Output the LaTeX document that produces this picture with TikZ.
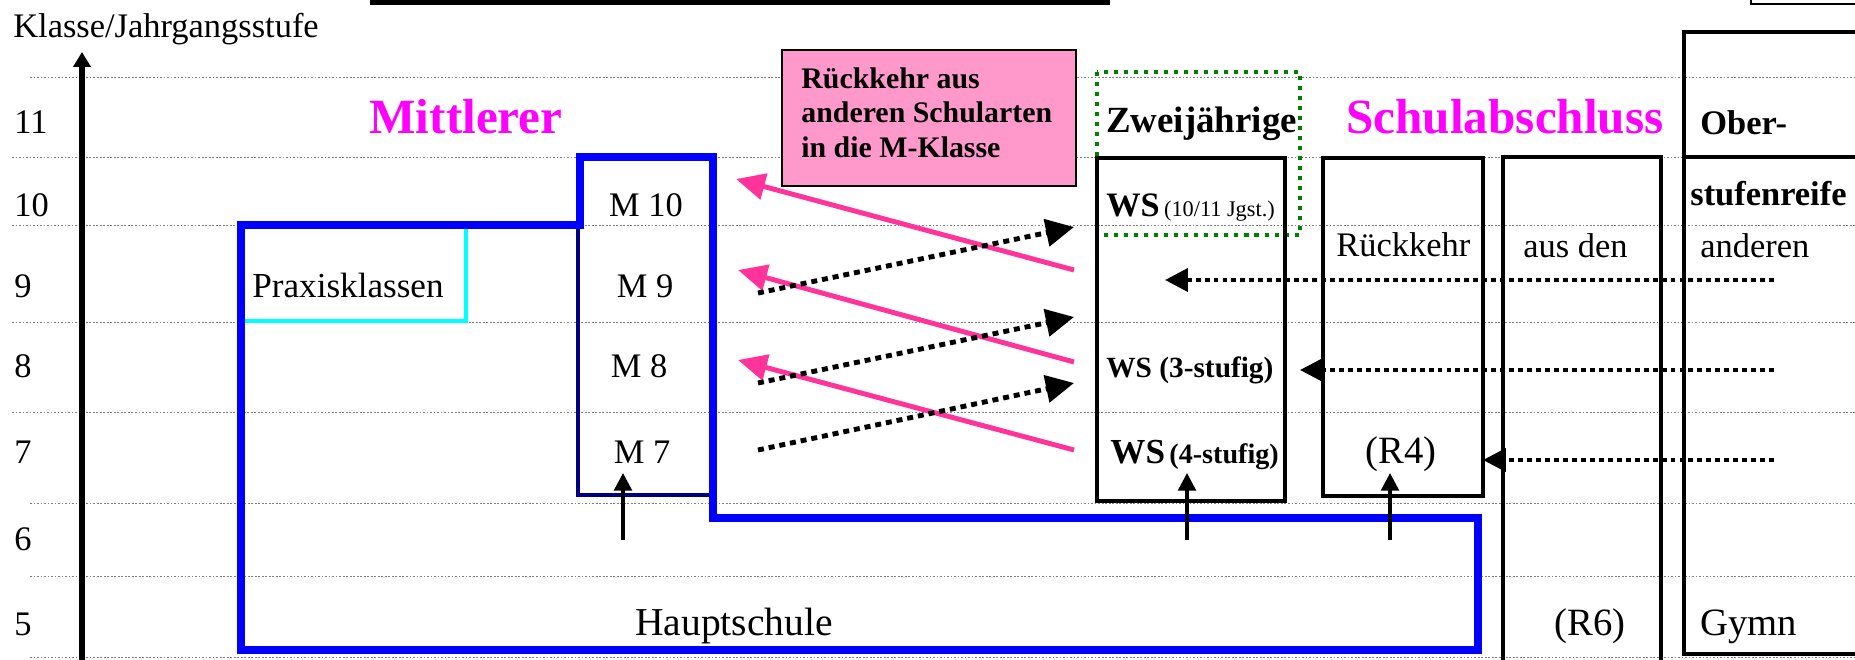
\documentclass[tikz,border=0pt]{standalone}
\usepackage{fontspec}
\setmainfont{Liberation Serif}
\usetikzlibrary{arrows.meta}
\definecolor{mag}{RGB}{255,0,255}
\definecolor{hotpink}{RGB}{255,51,153}
\definecolor{pinkfill}{RGB}{255,153,204}
\definecolor{navyc}{RGB}{0,0,128}
\definecolor{ddgreen}{RGB}{0,128,0}
\definecolor{pblue}{RGB}{0,0,255}
\definecolor{pcyan}{RGB}{0,255,255}
\newcommand{\fsz}[1]{\fontsize{#1pt}{#1pt}\selectfont}
\tikzset{
  gridline/.style={draw=gray, line width=0.5pt, dash pattern=on 1pt off 1pt},
  lbl/.style={inner sep=0pt, anchor=base west},
  clbl/.style={inner sep=0pt, anchor=base},
  axisline/.style={line width=3pt, -{Triangle[length=8.5pt,width=9.7pt]}},
  bluepath/.style={draw=pblue, line width=4.5pt, line join=miter},
  navybox/.style={draw=navyc, line width=2.6pt},
  cyanbox/.style={draw=pcyan, line width=2pt},
  blkbox/.style={draw=black, line width=2.8pt},
  greendot/.style={draw=ddgreen, line width=2.3pt, dash pattern=on 2.3pt off 3.4pt},
  pinkarrow/.style={draw=hotpink, line width=2.8pt, -{Triangle[length=16.5pt,width=14.8pt]}},
  dotarrow/.style={draw=black, line width=2.8pt, dash pattern=on 3.4pt off 2.8pt, -{Triangle[length=16pt,width=15.4pt]}},
  harrow/.style={draw=black, line width=2.3pt, dash pattern=on 2.8pt off 2.3pt, -{Triangle[length=13pt,width=13pt]}},
  varrow/.style={draw=black, line width=2pt, -{Triangle[length=10pt,width=10pt]}},
  pinkbox/.style={fill=pinkfill, draw=black, line width=1.2pt},
  normtxt/.style={font=\fsz{19.6}},
  bigtxt/.style={font=\fsz{22}},
  boldtxt/.style={font=\bfseries\fsz{19.6}},
  headtxt/.style={font=\bfseries\fsz{28}, text=mag},
}
\begin{document}
\begin{tikzpicture}[x=0.02cm,y=-0.02cm]
\useasboundingbox (0,0) rectangle (1855,659);
\clip (0,0) rectangle (1855,659);

% grid lines
\foreach \yy/\xx in {77/30,157/12,225/12,322/12,412/12,503/30,576/30,657/30}
  \draw[gridline] (\xx,\yy) -- (1855,\yy);

% top fragments
\draw[line width=2.3pt] (370,2.5) -- (1110,2.5);
\draw[line width=0.8pt] (1751,-10) rectangle (1870,4);

% axis
\coordinate (axb) at (82,665);
\coordinate (axt) at (82,52);
\draw[axisline] (axb) -- (axt);
\node[lbl, normtxt] (klasse) at (13,37) {Klasse/Jahrgangsstufe};

% row labels
\node[lbl, normtxt] (r11) at (14,133) {11};
\node[lbl, normtxt] (r10) at (14,216) {10};
\node[lbl, normtxt] (r9) at (14,297) {9};
\node[lbl, normtxt] (r8) at (14,377) {8};
\node[lbl, normtxt] (r7) at (14,463) {7};
\node[lbl, normtxt] (r6) at (14,550) {6};
\node[lbl, normtxt] (r5) at (14,635) {5};

% Praxisklassen box, M box, blue region
\draw[cyanbox] (243,227) rectangle (466,321);
\draw[navybox] (578,157) rectangle (714,495);
\draw[bluepath] (241,225) -- (580,225) -- (580,157) -- (713,157) -- (713,518)
  -- (1478,518) -- (1478,650) -- (241,650) -- cycle;

% green dotted box
\draw[greendot] (1097,72) rectangle (1300,235);

% black boxes
\draw[blkbox] (1097,158) rectangle (1285,501);
\draw[blkbox] (1323,158) rectangle (1483,496);
\draw[blkbox] (1503,157) rectangle (1661,700);
\draw[blkbox] (1684,32) rectangle (1880,157);
\draw[blkbox] (1684,157) rectangle (1880,654);

% pink box
\node[pinkbox, anchor=north west, minimum width=5.88cm, minimum height=2.72cm, inner sep=0pt] (pk) at (781,49) {};
\node[lbl, font=\bfseries\fsz{17}] (pk1) at (801,88) {Rückkehr aus};
\node[lbl, font=\bfseries\fsz{17}] (pk2) at (801,122) {anderen Schularten};
\node[lbl, font=\bfseries\fsz{17}] (pk3) at (801,157) {in die M-Klasse};

% pink arrows
\coordinate (p1s) at (1074,270); \coordinate (p1e) at (736,179);
\coordinate (p2s) at (1074,362); \coordinate (p2e) at (738,270);
\coordinate (p3s) at (1074,450); \coordinate (p3e) at (738,360);
\draw[pinkarrow] (p1s) -- (p1e);
\draw[pinkarrow] (p2s) -- (p2e);
\draw[pinkarrow] (p3s) -- (p3e);

% dotted diagonal arrows
\coordinate (d1s) at (758,293); \coordinate (d1e) at (1074,227);
\coordinate (d2s) at (758,383); \coordinate (d2e) at (1074,317);
\coordinate (d3s) at (758,450); \coordinate (d3e) at (1074,383);
\draw[dotarrow] (d1s) -- (d1e);
\draw[dotarrow] (d2s) -- (d2e);
\draw[dotarrow] (d3s) -- (d3e);

% horizontal dotted arrows
\coordinate (h1s) at (1774,280); \coordinate (h1e) at (1165,280);
\coordinate (h2s) at (1774,370); \coordinate (h2e) at (1300,370);
\coordinate (h3s) at (1774,460); \coordinate (h3e) at (1483,460);
\draw[harrow] (h1s) -- (h1e);
\draw[harrow] (h2s) -- (h2e);
\draw[harrow] (h3s) -- (h3e);

% vertical arrows
\coordinate (v1s) at (623,540); \coordinate (v1e) at (623,473);
\coordinate (v2s) at (1187,540); \coordinate (v2e) at (1187,473);
\coordinate (v3s) at (1390,540); \coordinate (v3e) at (1390,473);
\draw[varrow] (v1s) -- (v1e);
\draw[varrow] (v2s) -- (v2e);
\draw[varrow] (v3s) -- (v3e);

% headings
\node[clbl, headtxt] (mittl) at (466,133) {Mittlerer};
\node[lbl, headtxt] (schul) at (1346,133) {Schulabschluss};
\node[lbl, font=\bfseries\fsz{21}] (zwei) at (1106,132) {Zweijährige};
\node[lbl, boldtxt] (ober) at (1700,134) {Ober-};
\node[lbl, boldtxt] (stufe) at (1690,205) {stufenreife};

% M labels
\node[clbl, normtxt] (m10) at (646,216) {M 10};
\node[clbl, normtxt] (m9) at (645,297) {M 9};
\node[clbl, normtxt] (m8) at (639,377) {M 8};
\node[clbl, normtxt] (m7) at (642,463) {M 7};
\node[lbl, font=\fsz{20}] (praxis) at (252,297) {Praxisklassen};

% WS labels
\node[lbl] (ws1) at (1106,216) {{\bfseries\fsz{19.5}WS} {\fsz{12.7}(10/11 Jgst.)}};
\node[lbl, font=\bfseries\fsz{16.7}] (ws2) at (1106,377) {WS (3-stufig)};
\node[lbl] (ws3) at (1110,463) {{\bfseries\fsz{20}WS} {\bfseries\fsz{16}(4-stufig)}};

% right texts
\node[lbl, normtxt] (rueck) at (1336,256) {Rückkehr};
\node[lbl, normtxt] (ausden) at (1523,257) {aus den};
\node[lbl, normtxt] (anderen) at (1700,257) {anderen};
\node[clbl, bigtxt] (r4) at (1401,463) {(R4)};
\node[clbl, bigtxt] (r6) at (1590,635) {(R6)};
\node[lbl, bigtxt] (gymn) at (1700,635) {Gymn};
\node[clbl, font=\fsz{22.5}] (haupt) at (734,635) {Hauptschule};
\end{tikzpicture}
\end{document}
